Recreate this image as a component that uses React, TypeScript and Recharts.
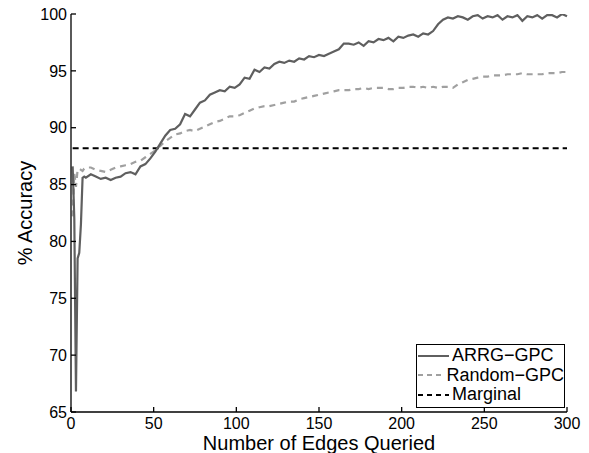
import React from 'react';
import { LineChart, Line, XAxis, YAxis, Legend } from 'recharts';

const edges = [
  1, 2, 3, 4, 5, 6, 7, 8, 9, 12, 15, 18, 21, 24, 27, 30, 33, 36, 39, 42, 45, 48, 51, 54, 57, 60,
  63, 66, 69, 72, 75, 78, 81, 84, 87, 90, 93, 96, 99, 102, 105, 108, 111, 114, 117, 120, 123, 126,
  129, 132, 135, 138, 141, 144, 147, 150, 153, 156, 159, 162, 165, 168, 171, 174, 177, 180, 183,
  186, 189, 192, 195, 198, 201, 204, 207, 210, 213, 216, 219, 222, 225, 228, 231, 234, 237, 240,
  243, 246, 249, 252, 255, 258, 261, 264, 267, 270, 273, 276, 279, 282, 285, 288, 291, 294, 297, 300,
];

const arrgAcc = [
  86.6, 82.0, 66.8, 78.5, 79.0, 81.5, 85.6, 85.7, 85.6, 85.9, 85.7, 85.5, 85.6, 85.4, 85.6, 85.7,
  86.0, 86.1, 85.9, 86.6, 86.8, 87.3, 87.9, 88.6, 89.3, 89.8, 89.9, 90.3, 91.2, 91.0, 91.6, 92.2,
  92.4, 92.9, 93.1, 93.3, 93.2, 93.6, 93.5, 93.8, 94.4, 94.3, 95.1, 94.9, 95.3, 95.2, 95.6, 95.8,
  95.7, 95.9, 95.8, 96.1, 96.0, 96.3, 96.2, 96.4, 96.3, 96.5, 96.7, 96.9, 97.4, 97.4, 97.3, 97.5,
  97.2, 97.6, 97.5, 97.8, 97.7, 97.9, 97.6, 98.0, 97.9, 98.1, 98.2, 98.0, 98.3, 98.2, 98.5, 99.1,
  99.5, 99.7, 99.6, 99.8, 99.7, 99.5, 99.8, 99.9, 99.6, 99.8, 99.7, 99.9, 99.5, 99.8, 99.7, 99.9,
  99.4, 99.8, 99.7, 99.9, 99.6, 99.9, 99.9, 99.7, 100.0, 99.8,
];

const randomAcc = [
  82.2, 86.0, 84.8, 86.3, 86.4, 86.3, 86.2, 86.4, 86.5, 86.5, 86.3, 86.2, 86.1, 86.3, 86.5, 86.6,
  86.7, 86.8, 87.0, 87.1, 87.4, 87.7, 88.0, 88.4, 88.8, 89.1, 89.4, 89.5, 89.7, 89.8, 89.7, 89.9,
  90.1, 90.3, 90.5, 90.6, 90.8, 91.0, 91.0, 91.1, 91.3, 91.5, 91.7, 91.8, 91.9, 91.9, 92.0, 92.1,
  92.2, 92.3, 92.3, 92.5, 92.6, 92.7, 92.8, 92.9, 93.0, 93.1, 93.2, 93.3, 93.3, 93.3, 93.4, 93.4,
  93.5, 93.4, 93.5, 93.5, 93.5, 93.4, 93.4, 93.5, 93.5, 93.6, 93.6, 93.5, 93.6, 93.5, 93.6, 93.5,
  93.6, 93.6, 93.5, 93.8, 94.0, 94.2, 94.3, 94.4, 94.5, 94.5, 94.6, 94.6, 94.6, 94.7, 94.7, 94.7,
  94.8, 94.7, 94.7, 94.7, 94.7, 94.8, 94.8, 94.8, 94.9, 94.9,
];

const MARGINAL = 88.2;

const xTicks = [0, 50, 100, 150, 200, 250, 300];
const yTicks = [65, 70, 75, 80, 85, 90, 95, 100];

const data = edges.map((e, i) => ({
  edges: e,
  arrg: arrgAcc[i],
  random: randomAcc[i],
  marginal: MARGINAL,
}));

const FONT = '"Liberation Sans", Arial, Helvetica, sans-serif';

const legendItems = [
  { name: 'ARRG\u2212GPC', color: '#5f5f5f', dash: undefined as string | undefined },
  { name: 'Random\u2212GPC', color: '#a0a0a0', dash: '5 4' },
  { name: 'Marginal', color: '#000000', dash: '5 4' },
];

function LegendBox() {
  return (
    <div
      style={{
        width: 147,
        height: 61,
        border: '1px solid #000',
        background: '#fff',
        fontFamily: FONT,
        fontSize: 18,
        color: '#000',
        paddingTop: 1,
        boxSizing: 'content-box',
      }}
    >
      {legendItems.map((it) => (
        <div key={it.name} style={{ display: 'flex', alignItems: 'center', height: 19.5, lineHeight: '19px' }}>
          <svg width={34} height={10} style={{ marginRight: 1 }}>
            <line x1={1} y1={5} x2={32} y2={5} stroke={it.color} strokeWidth={2} strokeDasharray={it.dash} />
          </svg>
          <span>{it.name}</span>
        </div>
      ))}
    </div>
  );
}

export default function App() {
  return (
    <div style={{ position: 'absolute', left: 0, top: 0, background: '#fff' }}>
      <LineChart width={589} height={453} data={data} margin={{ top: 14, right: 22, left: 0, bottom: 0 }}>
        <XAxis
          xAxisId="bottom"
          dataKey="edges"
          type="number"
          domain={[0, 300]}
          ticks={xTicks}
          height={41}
          tickSize={-5}
          tickMargin={11}
          stroke="#000"
          strokeWidth={1.3}
          tick={{ fill: '#000', fontSize: 16, fontFamily: FONT }}
          label={(props: any) => {
            const vb = props.viewBox || {};
            return (
              <text x={vb.x + vb.width / 2} y={vb.y + 38} textAnchor="middle" fontSize={20} fontFamily={FONT} fill="#000">
                Number of Edges Queried
              </text>
            );
          }}
        />
        <XAxis
          xAxisId="top"
          dataKey="edges"
          type="number"
          orientation="top"
          domain={[0, 300]}
          ticks={xTicks}
          height={0}
          tickSize={-5}
          stroke="#000"
          strokeWidth={1.3}
          tickFormatter={() => ''}
        />
        <YAxis
          yAxisId="left"
          type="number"
          domain={[65, 100]}
          ticks={yTicks}
          width={71}
          tickSize={-5}
          tickMargin={9}
          stroke="#000"
          strokeWidth={1.3}
          allowDataOverflow
          tick={{ fill: '#000', fontSize: 16, fontFamily: FONT }}
          label={(props: any) => {
            const vb = props.viewBox || {};
            const cx = 32;
            const cy = vb.y + vb.height / 2;
            return (
              <text
                x={cx}
                y={cy}
                transform={`rotate(-90, ${cx}, ${cy})`}
                textAnchor="middle"
                fontSize={20}
                fontFamily={FONT}
                fill="#000"
              >
                % Accuracy
              </text>
            );
          }}
        />
        <YAxis
          yAxisId="right"
          orientation="right"
          type="number"
          domain={[65, 100]}
          ticks={yTicks}
          width={0}
          tickSize={-5}
          stroke="#000"
          strokeWidth={1.3}
          tickFormatter={() => ''}
        />
        <Legend
          layout="vertical"
          align="center"
          verticalAlign="middle"
          wrapperStyle={{ left: 416, top: 344, width: 149, height: 63 }}
          content={() => <LegendBox />}
        />
        <Line
          xAxisId="bottom"
          yAxisId="left"
          dataKey="marginal"
          name="Marginal"
          stroke="#000"
          strokeWidth={2}
          strokeDasharray="6 4"
          dot={false}
          isAnimationActive={false}
        />
        <Line
          xAxisId="bottom"
          yAxisId="left"
          dataKey="random"
          name="Random-GPC"
          stroke="#a0a0a0"
          strokeWidth={2.2}
          strokeDasharray="6 5"
          dot={false}
          isAnimationActive={false}
        />
        <Line
          xAxisId="bottom"
          yAxisId="left"
          dataKey="arrg"
          name="ARRG-GPC"
          stroke="#5f5f5f"
          strokeWidth={2.2}
          dot={false}
          isAnimationActive={false}
        />
      </LineChart>
    </div>
  );
}
